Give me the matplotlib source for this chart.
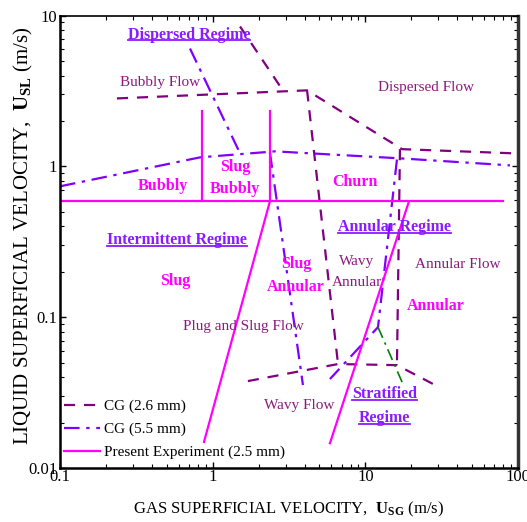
import matplotlib
matplotlib.use("Agg")
import matplotlib.pyplot as plt
from matplotlib.lines import Line2D

plt.rcParams['font.family'] = ['Liberation Serif', 'DejaVu Serif']
plt.rcParams['mathtext.fontset'] = 'custom'
plt.rcParams['mathtext.rm'] = 'Liberation Serif'
plt.rcParams['mathtext.bf'] = 'Liberation Serif:bold'
plt.rcParams['mathtext.it'] = 'Liberation Serif:italic'

# ---- data (gas velocity USG, liquid velocity USL) ----
# CG (2.6 mm) boundaries
cg26_top_x = [0.236, 4.15, 17.4, 92.7]
cg26_top_y = [2.82, 3.19, 1.30, 1.22]
cg26_diag_x = [1.51, 2.88]
cg26_diag_y = [8.46, 3.19]
cg26_left_x = [4.15, 6.62]
cg26_left_y = [3.19, 0.0489]
cg26_bot_x = [1.70, 6.62, 16.1, 28.6]
cg26_bot_y = [0.0377, 0.0489, 0.0481, 0.0355]
cg26_right_x = [16.85, 16.1]
cg26_right_y = [1.30, 0.0481]

# CG (5.5 mm) boundaries
cg55_top_x = [0.1, 0.826, 2.56, 16.85, 88.5]
cg55_top_y = [0.737, 1.147, 1.257, 1.13, 1.015]
cg55_diag_x = [0.71, 1.51]
cg55_diag_y = [6.04, 1.22]
cg55_left_x = [2.37, 3.90]
cg55_left_y = [1.238, 0.0355]
cg55_right_x = [16.1, 12.1, 5.86]
cg55_right_y = [1.11, 0.0859, 0.0389]
cg55_green_x = [12.1, 17.4]
cg55_green_y = [0.0859, 0.0371]

# Present experiment (2.5 mm)
pe_h_x = [0.1, 79.6]
pe_h_y = [0.586, 0.586]
pe_v1_x = [0.851, 0.851]
pe_v1_y = [2.31, 0.586]
pe_v2_x = [2.37, 2.37]
pe_v2_y = [2.31, 0.586]
pe_d1_x = [2.37, 0.877]
pe_d1_y = [0.586, 0.0149]
pe_d2_x = [19.3, 5.86]
pe_d2_y = [0.586, 0.0146]

C26 = '#800080'
C55 = '#7F00FF'
CPE = '#FF00FF'
CGREEN = '#008000'
CREG = '#8A1AFF'
CTXT = '#8B1A7E'

fig = plt.figure(figsize=(5.27, 5.22), dpi=100)
ax = fig.add_axes([0.1139, 0.1034, 0.8691, 0.8669])
ax.set_xscale('log')
ax.set_yscale('log')
ax.set_xlim(0.1, 100)
ax.set_ylim(0.01, 10)

dash26 = (0, (5, 4))
dashdot = (0, (7, 3, 1.5, 3))
lw = 1.6
ax.plot(cg26_top_x, cg26_top_y, color=C26, ls=dash26, lw=lw, label='CG (2.6 mm)')
for xs, ys in [(cg26_diag_x, cg26_diag_y), (cg26_left_x, cg26_left_y),
               (cg26_bot_x, cg26_bot_y), (cg26_right_x, cg26_right_y)]:
    ax.plot(xs, ys, color=C26, ls=dash26, lw=lw)

ax.plot(cg55_top_x, cg55_top_y, color=C55, ls=dashdot, lw=lw, label='CG (5.5 mm)')
for xs, ys in [(cg55_diag_x, cg55_diag_y), (cg55_left_x, cg55_left_y),
               (cg55_right_x, cg55_right_y)]:
    ax.plot(xs, ys, color=C55, ls=dashdot, lw=lw)
ax.plot(cg55_green_x, cg55_green_y, color=CGREEN, ls=dashdot, lw=1.2)

ax.plot(pe_h_x, pe_h_y, color=CPE, lw=1.6, label='Present Experiment (2.5 mm)')
for xs, ys in [(pe_v1_x, pe_v1_y), (pe_v2_x, pe_v2_y), (pe_d1_x, pe_d1_y), (pe_d2_x, pe_d2_y)]:
    ax.plot(xs, ys, color=CPE, lw=1.6)

fs_plain = 11
fs_bold = 11.5
# plain flow-pattern labels
for s, x, y in [('Bubbly Flow', 0.452, 3.60), ('Dispersed Flow', 24.9, 3.34),
                ('Wavy', 8.81, 0.235), ('Annular', 8.81, 0.171),
                ('Annular Flow', 40.4, 0.224),
                ('Plug and Slug Flow', 1.60, 0.0872), ('Wavy Flow', 3.67, 0.0261)]:
    ax.text(x, y, s, color=CTXT, fontsize=fs_plain, ha='center', va='center')

# present-experiment labels (bold magenta)
for s, x, y in [('Bubbly', 0.473, 0.737), ('Slug', 1.40, 0.985), ('Bubbly', 1.40, 0.704),
                ('Churn', 8.55, 0.783), ('Slug', 0.566, 0.173),
                ('Slug', 3.51, 0.224), ('Annular', 3.51, 0.158), ('Annular', 29.0, 0.118)]:
    ax.text(x, y, s, color=CPE, fontsize=fs_bold, fontweight='bold', ha='center',
            va='center')

# regime labels (bold violet, underlined)
reg_texts = []
for s, x, y in [('Dispersed Regime', 0.70, 7.48), ('Intermittent Regime', 0.584, 0.324),
                ('Annular Regime', 15.6, 0.394), ('Stratified', 13.4, 0.0309),
                ('Regime', 13.4, 0.0214)]:
    reg_texts.append(ax.text(x, y, s, color=CREG, fontsize=fs_bold, fontweight='bold',
                             ha='center', va='center'))

ax.set_xlabel(r'GAS SUPERFICIAL VELOCITY,  $\mathbf{U_{SG}}$ (m/s)',
              fontsize=12, labelpad=10)
ax.set_ylabel(r'LIQUID SUPERFICIAL VELOCITY,  $\mathbf{U_{SL}}$ (m/s)',
              fontsize=15)
ax.yaxis.set_label_coords(-0.055, 0.514)

ax.set_xticks([0.1, 1, 10, 100])
ax.set_xticklabels(['0.1', '1', '10', '100'])
ax.set_yticks([0.01, 0.1, 1, 10])
ax.set_yticklabels(['0.01', '0.1', '1', '10'])
ax.tick_params(which='both', direction='in', top=True, right=True, labelsize=12, pad=2)
ax.tick_params(axis='x', which='major', pad=1)
ax.tick_params(which='major', length=4, width=1)
ax.tick_params(which='minor', length=3, width=0.8)

ax.spines['left'].set_linewidth(1.8)
ax.spines['bottom'].set_linewidth(1.8)
ax.spines['top'].set_linewidth(1.2)
ax.spines['right'].set_linewidth(2.5)
ax.spines['right'].set_color('#333333')

leg = ax.legend(loc='lower left', bbox_to_anchor=(0.0, 0.011), frameon=False,
                fontsize=11, handlelength=2.35, handletextpad=0.25,
                borderaxespad=0.1, labelspacing=0.6, borderpad=0.15)

# underline regime labels
fig.canvas.draw()
renderer = fig.canvas.get_renderer()
inv = fig.transFigure.inverted()
for t in reg_texts:
    bb = t.get_window_extent(renderer)
    (x0, y0) = inv.transform((bb.x0, bb.y0 + 2.5))
    (x1, _) = inv.transform((bb.x1, bb.y0 + 2.5))
    fig.add_artist(Line2D([x0, x1], [y0, y0], color=CREG, lw=1.3, transform=fig.transFigure))

fig.savefig('out.png', dpi=100)
